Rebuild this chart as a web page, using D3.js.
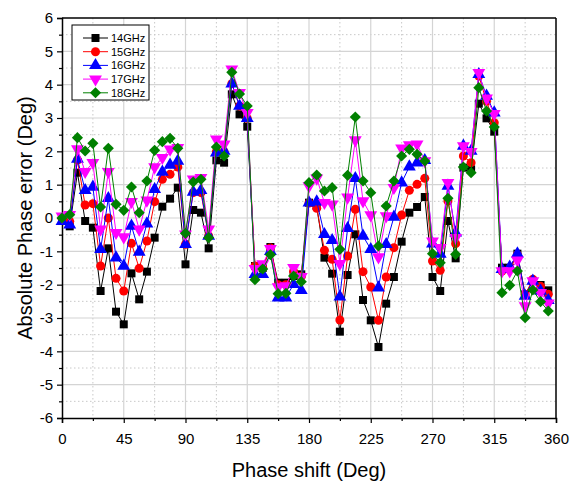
<!DOCTYPE html>
<html>
<head>
<meta charset="utf-8">
<script src="https://cdn.jsdelivr.net/npm/d3@7"></script>
<style>
  body { margin: 0; background: #fff; }
  text { font-family: "Liberation Sans", Arial, sans-serif; }
</style>
</head>
<body>
<div id="chart"></div>
<script>
// phase states: 64 steps of 5.625 deg
const phases = d3.range(64).map(i => i * 5.625);
const xTicks = [0, 45, 90, 135, 180, 225, 270, 315, 360];
const yTicks = [-6, -5, -4, -3, -2, -1, 0, 1, 2, 3, 4, 5, 6];

const seriesNames = ["14GHz", "15GHz", "16GHz", "17GHz", "18GHz"];

const err14 = [-0.05, -0.25, 1.36, -0.09, -0.29, -2.19, -0.91, -2.81, -3.19, -1.66, -2.44, -1.61, -0.59, 0.34, 0.58, 0.91,
  -1.39, 0.24, 0.16, -0.91, 1.73, 1.66, 3.71, 3.11, 2.74, -1.44, -1.5, -0.87, -1.94, -1.94, -1.74, -1.69,
  0.46, 0.36, -1.19, -1.67, -3.41, -1.71, -0.49, -2.46, -3.07, -3.87, -2.57, -1.77, -0.71, 0.16, 0.33, 0.63,
  -1.77, -2.19, -0.09, -1.21, 1.51, 1.46, 3.43, 2.99, 2.59, -1.49, -1.49, -1.07, -2.29, -1.89, -2.01, -2.17];
const err15 = [0, -0.1, 1.74, 0.39, 0.43, -1.44, 0.0, -1.81, -2.19, -0.76, -1.51, -0.69, 0.49, 1.16, 1.31, 1.53,
  -0.79, 0.76, 0.76, -0.54, 1.99, 1.99, 4.03, 3.36, 2.99, -1.44, -1.5, -0.9, -2.0, -2.0, -1.6, -1.75,
  0.45, 0.29, -0.97, -1.24, -3.06, -1.14, 0.26, -1.61, -2.07, -3.07, -1.77, -0.89, 0.09, 0.83, 1.01, 1.19,
  -1.29, -1.57, 0.51, -0.77, 1.86, 1.66, 4.26, 3.5, 2.86, -1.59, -1.55, -1.1, -2.3, -1.84, -2.05, -2.29];
const err16 = [-0.1, -0.2, 1.77, 0.83, 0.93, -0.94, 0.59, -1.19, -1.44, -0.24, -1.02, -0.17, 0.86, 1.38, 1.59, 1.71,
  -0.79, 0.78, 0.83, -0.54, 1.96, 2.01, 4.03, 3.36, 2.99, -1.69, -1.69, -1.0, -2.39, -2.39, -1.99, -2.17,
  0.46, 0.49, -0.49, -0.67, -2.36, -0.31, 1.19, -0.54, -0.94, -2.09, -0.79, 0.03, 1.06, 1.54, 1.66, 1.73,
  -0.77, -1.08, 0.96, -0.44, 2.16, 2.01, 4.31, 3.66, 3.16, -1.54, -1.47, -1.07, -2.34, -1.89, -2.19, -2.47];
const err17 = [0.05, 0.1, 2.07, 1.39, 1.66, -0.34, 1.39, -0.44, -0.57, 0.49, -0.34, 0.53, 1.53, 1.81, 2.06, 2.11,
  -0.49, 1.16, 1.21, -0.34, 2.36, 2.21, 4.46, 3.76, 3.16, -1.52, -1.38, -0.92, -2.07, -2.04, -1.49, -1.76,
  0.96, 1.19, 0.46, 0.41, -1.37, 0.62, 2.34, 0.51, 0.09, -1.17, 0.06, 0.91, 2.09, 2.19, 2.21, 1.71,
  -0.7, -0.89, 1.06, -0.59, 2.16, 1.99, 4.36, 3.59, 3.13, -1.59, -1.59, -1.27, -2.64, -1.89, -2.24, -2.56];
const err18 = [0.0, 0.1, 2.41, 2.01, 2.24, 0.33, 2.09, 0.41, 0.23, 0.93, 0.16, 1.11, 2.03, 2.29, 2.39, 2.09,
  -0.46, 1.08, 1.16, -0.59, 2.13, 1.86, 4.37, 3.72, 3.36, -1.85, -1.53, -1.1, -2.27, -2.26, -1.74, -1.91,
  1.06, 1.29, 0.81, 0.91, -0.94, 1.28, 3.03, 1.11, 0.76, -0.84, 0.36, 1.11, 1.86, 2.06, 1.91, 1.71,
  -1.07, -1.34, 0.59, -1.09, 1.53, 1.36, 3.91, 3.21, 2.73, -2.24, -2.02, -1.59, -2.99, -2.16, -2.51, -2.79];

const colors = ["#000000", "#ff0000", "#0000ff", "#ff00ff", "#008000"];
const allSeries = [err14, err15, err16, err17, err18];

const width = 571, height = 482;
const margin = { top: 18, right: 15, bottom: 64, left: 62 };
const iw = width - margin.left - margin.right;
const ih = height - margin.top - margin.bottom;

const x = d3.scaleLinear().domain([0, 360]).range([0, iw]);
const y = d3.scaleLinear().domain([-6, 6]).range([ih, 0]);

const svg = d3.select("#chart").append("svg")
  .attr("width", width)
  .attr("height", height);

const g = svg.append("g").attr("transform", `translate(${margin.left},${margin.top})`);

// minor grid (dotted)
g.append("g").selectAll("line")
  .data(d3.range(22.5, 360, 45))
  .join("line")
  .attr("x1", d => x(d)).attr("x2", d => x(d))
  .attr("y1", 0).attr("y2", ih)
  .attr("stroke", "#c8c8c8").attr("stroke-dasharray", "1.5,2.5");
g.append("g").selectAll("line")
  .data(d3.range(-5.5, 6, 1))
  .join("line")
  .attr("x1", 0).attr("x2", iw)
  .attr("y1", d => y(d)).attr("y2", d => y(d))
  .attr("stroke", "#c8c8c8").attr("stroke-dasharray", "1.5,2.5");

// major grid
g.append("g").selectAll("line")
  .data(xTicks.slice(1, -1))
  .join("line")
  .attr("x1", d => x(d)).attr("x2", d => x(d))
  .attr("y1", 0).attr("y2", ih)
  .attr("stroke", "#d4d4d4").attr("stroke-width", 1.2);
g.append("g").selectAll("line")
  .data(yTicks.slice(1, -1))
  .join("line")
  .attr("x1", 0).attr("x2", iw)
  .attr("y1", d => y(d)).attr("y2", d => y(d))
  .attr("stroke", "#d4d4d4").attr("stroke-width", 1.2);

// frame top/right
g.append("line").attr("x1", 0).attr("x2", iw).attr("y1", 0).attr("y2", 0)
  .attr("stroke", "#000").attr("stroke-width", 1.5);
g.append("line").attr("x1", iw).attr("x2", iw).attr("y1", 0).attr("y2", ih)
  .attr("stroke", "#000").attr("stroke-width", 1.5);

// axes
const plain = d => String(d);
const xAxis = g.append("g").attr("transform", `translate(0,${ih})`)
  .call(d3.axisBottom(x).tickValues(xTicks).tickSize(5).tickPadding(10).tickFormat(plain));
g.append("g").attr("transform", `translate(0,${ih})`)
  .call(d3.axisBottom(x).tickValues(d3.range(22.5, 360, 45)).tickSize(3).tickFormat(""))
  .select(".domain").remove();
const yAxis = g.append("g")
  .call(d3.axisLeft(y).tickValues(yTicks).tickSize(5).tickPadding(4).tickFormat(plain));
g.append("g")
  .call(d3.axisLeft(y).tickValues(d3.range(-5.5, 6, 1)).tickSize(3).tickFormat(""))
  .select(".domain").remove();

g.selectAll(".domain").attr("stroke-width", 1.5);
g.selectAll(".tick line").attr("stroke-width", 1.2);
xAxis.selectAll("text").attr("font-size", 15).attr("fill", "#000");
yAxis.selectAll("text").attr("font-size", 15).attr("fill", "#000");

// axis titles
svg.append("text")
  .attr("x", margin.left + iw / 2).attr("y", 477)
  .attr("text-anchor", "middle").attr("font-size", 20)
  .text("Phase shift (Deg)");
svg.append("text")
  .attr("transform", `translate(32,${margin.top + ih / 2}) rotate(-90)`)
  .attr("text-anchor", "middle").attr("font-size", 20)
  .text("Absolute Phase error (Deg)");

// markers
const markerPath = [
  d3.symbol().type(d3.symbolSquare).size(64)(),
  d3.symbol().type(d3.symbolCircle).size(64)(),
  d3.symbol().type(d3.symbolTriangle).size(72)(),
  d3.symbol().type(d3.symbolTriangle).size(72)(),
  d3.symbol().type(d3.symbolSquare).size(62)()
];
const markerRot = [0, 0, 0, 180, 45];

const line = d3.line().x((d, i) => x(phases[i])).y(d => y(d));

allSeries.forEach((vals, s) => {
  const sg = g.append("g");
  sg.append("path")
    .datum(vals)
    .attr("d", line)
    .attr("fill", "none")
    .attr("stroke", colors[s])
    .attr("stroke-width", 1);
  sg.selectAll("path.m")
    .data(vals)
    .join("path")
    .attr("class", "m")
    .attr("d", markerPath[s])
    .attr("transform", (d, i) => `translate(${x(phases[i])},${y(d)}) rotate(${markerRot[s]})`)
    .attr("fill", colors[s]);
});

// legend
const lg = svg.append("g").attr("transform", "translate(72,25)");
lg.append("rect").attr("width", 77).attr("height", 75)
  .attr("fill", "#fff").attr("stroke", "#000").attr("stroke-width", 1);
seriesNames.forEach((name, s) => {
  const ly = 13 + s * 13.7;
  lg.append("line").attr("x1", 11).attr("x2", 36).attr("y1", ly).attr("y2", ly)
    .attr("stroke", colors[s]).attr("stroke-width", 1);
  lg.append("path").attr("d", markerPath[s])
    .attr("transform", `translate(23.5,${ly}) rotate(${markerRot[s]})`)
    .attr("fill", colors[s]);
  lg.append("text").attr("x", 39).attr("y", ly + 4)
    .attr("font-size", 11).text(name);
});
</script>
</body>
</html>
